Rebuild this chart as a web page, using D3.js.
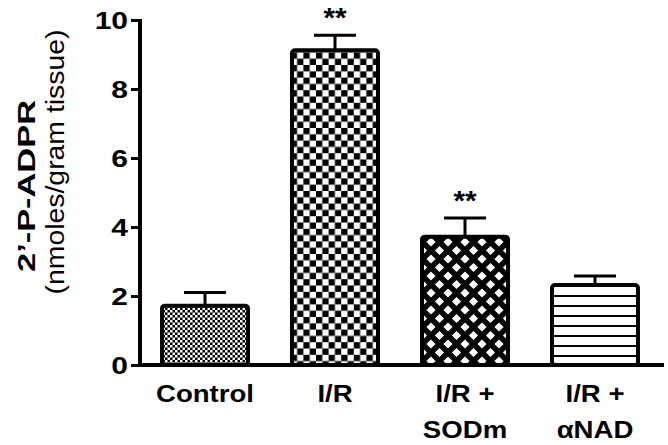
<!DOCTYPE html>
<html><head><meta charset="utf-8">
<script src="https://cdn.jsdelivr.net/npm/d3@7"></script>
<style>body{margin:0;background:#fff}svg{display:block}text{font-family:"Liberation Sans",Arial,sans-serif;font-weight:bold;fill:#000}</style>
</head><body>
<svg id="c" width="668" height="445"></svg>
<script>
const categories = [["Control"], ["I/R"], ["I/R +", "SODm"], ["I/R +", "\u03B1NAD"]];
const means = [1.72, 9.12, 3.72, 2.32];
const errors = [0.38, 0.44, 0.54, 0.26];
const stars = ["", "**", "**", ""];
const patterns = ["pFine", "pChecker", "pDiamond", "pLines"];
const yTicks = [0, 2, 4, 6, 8, 10];
const yLabel1 = "2\u2019-P-ADPR";
const yLabel2 = "(nmoles/gram tissue)";

const svg = d3.select("#c");
const defs = svg.append("defs");
// fine checker
let p = defs.append("pattern").attr("id","pFine").attr("patternUnits","userSpaceOnUse").attr("width",5).attr("height",5);
p.append("rect").attr("width",5).attr("height",5).attr("fill","#000");
p.append("rect").attr("width",2.5).attr("height",2.5).attr("fill","#fff");
p.append("rect").attr("x",2.5).attr("y",2.5).attr("width",2.5).attr("height",2.5).attr("fill","#fff");
// large checker
p = defs.append("pattern").attr("id","pChecker").attr("patternUnits","userSpaceOnUse").attr("width",12.6).attr("height",12.6).attr("x",1).attr("y",2);
p.append("rect").attr("width",12.6).attr("height",12.6).attr("fill","#fff");
p.append("rect").attr("width",6.3).attr("height",6.3).attr("fill","#000");
p.append("rect").attr("x",6.3).attr("y",6.3).attr("width",6.3).attr("height",6.3).attr("fill","#000");
// diamonds
p = defs.append("pattern").attr("id","pDiamond").attr("patternUnits","userSpaceOnUse").attr("width",17).attr("height",17).attr("x",6).attr("y",4);
p.append("rect").attr("width",17).attr("height",17).attr("fill","#000");
const dia = (cx,cy,r)=>`M${cx},${cy-r}L${cx+r},${cy}L${cx},${cy+r}L${cx-r},${cy}Z`;
[[0,0],[17,0],[0,17],[17,17],[8.5,8.5]].forEach(([cx,cy])=>p.append("path").attr("d",dia(cx,cy,4.6)).attr("fill","#fff"));
// horizontal lines
p = defs.append("pattern").attr("id","pLines").attr("patternUnits","userSpaceOnUse").attr("width",10).attr("height",10).attr("y",5);
p.append("rect").attr("width",10).attr("height",10).attr("fill","#fff");
p.append("rect").attr("y",0).attr("width",10).attr("height",2).attr("fill","#000");

const x = d3.scaleBand().domain(d3.range(categories.length)).range([140, 660]).paddingInner(40/130).paddingOuter(20/130);
const y = d3.scaleLinear().domain([0, 10]).range([365, 20]);

// bars
const g = svg.append("g");
means.forEach((m, i) => {
  const bx = x(i), bw = x.bandwidth(), cx = bx + bw/2;
  g.append("line").attr("x1",cx).attr("x2",cx).attr("y1",y(m)).attr("y2",y(m+errors[i])).attr("stroke","#000").attr("stroke-width",3);
  g.append("line").attr("x1",cx-21).attr("x2",cx+21).attr("y1",y(m+errors[i])).attr("y2",y(m+errors[i])).attr("stroke","#000").attr("stroke-width",3);
  g.append("rect").attr("x",bx+2).attr("y",y(m)).attr("width",bw-4).attr("height",y(0)-y(m))
    .attr("rx",3).attr("fill",`url(#${patterns[i]})`).attr("stroke","#000").attr("stroke-width",4);
  if (stars[i]) g.append("text").attr("transform",`translate(${cx},${y(m+errors[i])-8}) scale(1.1,1)`).attr("text-anchor","middle")
    .attr("font-size",27).text(stars[i]);
});

// y axis
const ya = svg.append("g").attr("transform","translate(140,0)")
  .call(d3.axisLeft(y).tickValues(yTicks).tickSize(9).tickPadding(4).tickFormat(d3.format("d")));
ya.attr("font-family", null).attr("font-size", null);
ya.select(".domain").attr("stroke","#000").attr("stroke-width",4).attr("d",`M0,${y(10)-1}V${y(0)+2}`);
ya.selectAll(".tick line").attr("stroke","#000").attr("stroke-width",3);
ya.selectAll(".tick text").attr("x",0).attr("dy","0.36em").attr("font-size",24)
  .attr("transform","translate(-12,0) scale(1.25,1)");

// x axis
svg.append("line").attr("x1",138).attr("x2",664).attr("y1",y(0)).attr("y2",y(0)).attr("stroke","#000").attr("stroke-width",4);
categories.forEach((lines, i) => {
  const cx = x(i)+x.bandwidth()/2;
  lines.forEach((l, j) => svg.append("text").attr("transform",`translate(${cx},${402+j*36}) scale(1.2,1)`)
    .attr("text-anchor","middle").attr("font-size",23).text(l));
});

// y label
svg.append("text").attr("transform","translate(35,186) rotate(-90)").attr("text-anchor","middle").attr("font-size",23)
  .attr("textLength",172).attr("lengthAdjust","spacingAndGlyphs").text(yLabel1);
svg.append("text").attr("transform","translate(64,162) rotate(-90)").attr("text-anchor","middle").attr("font-size",26)
  .style("font-weight","normal").attr("textLength",265).attr("lengthAdjust","spacingAndGlyphs").text(yLabel2);
</script>
</body></html>
